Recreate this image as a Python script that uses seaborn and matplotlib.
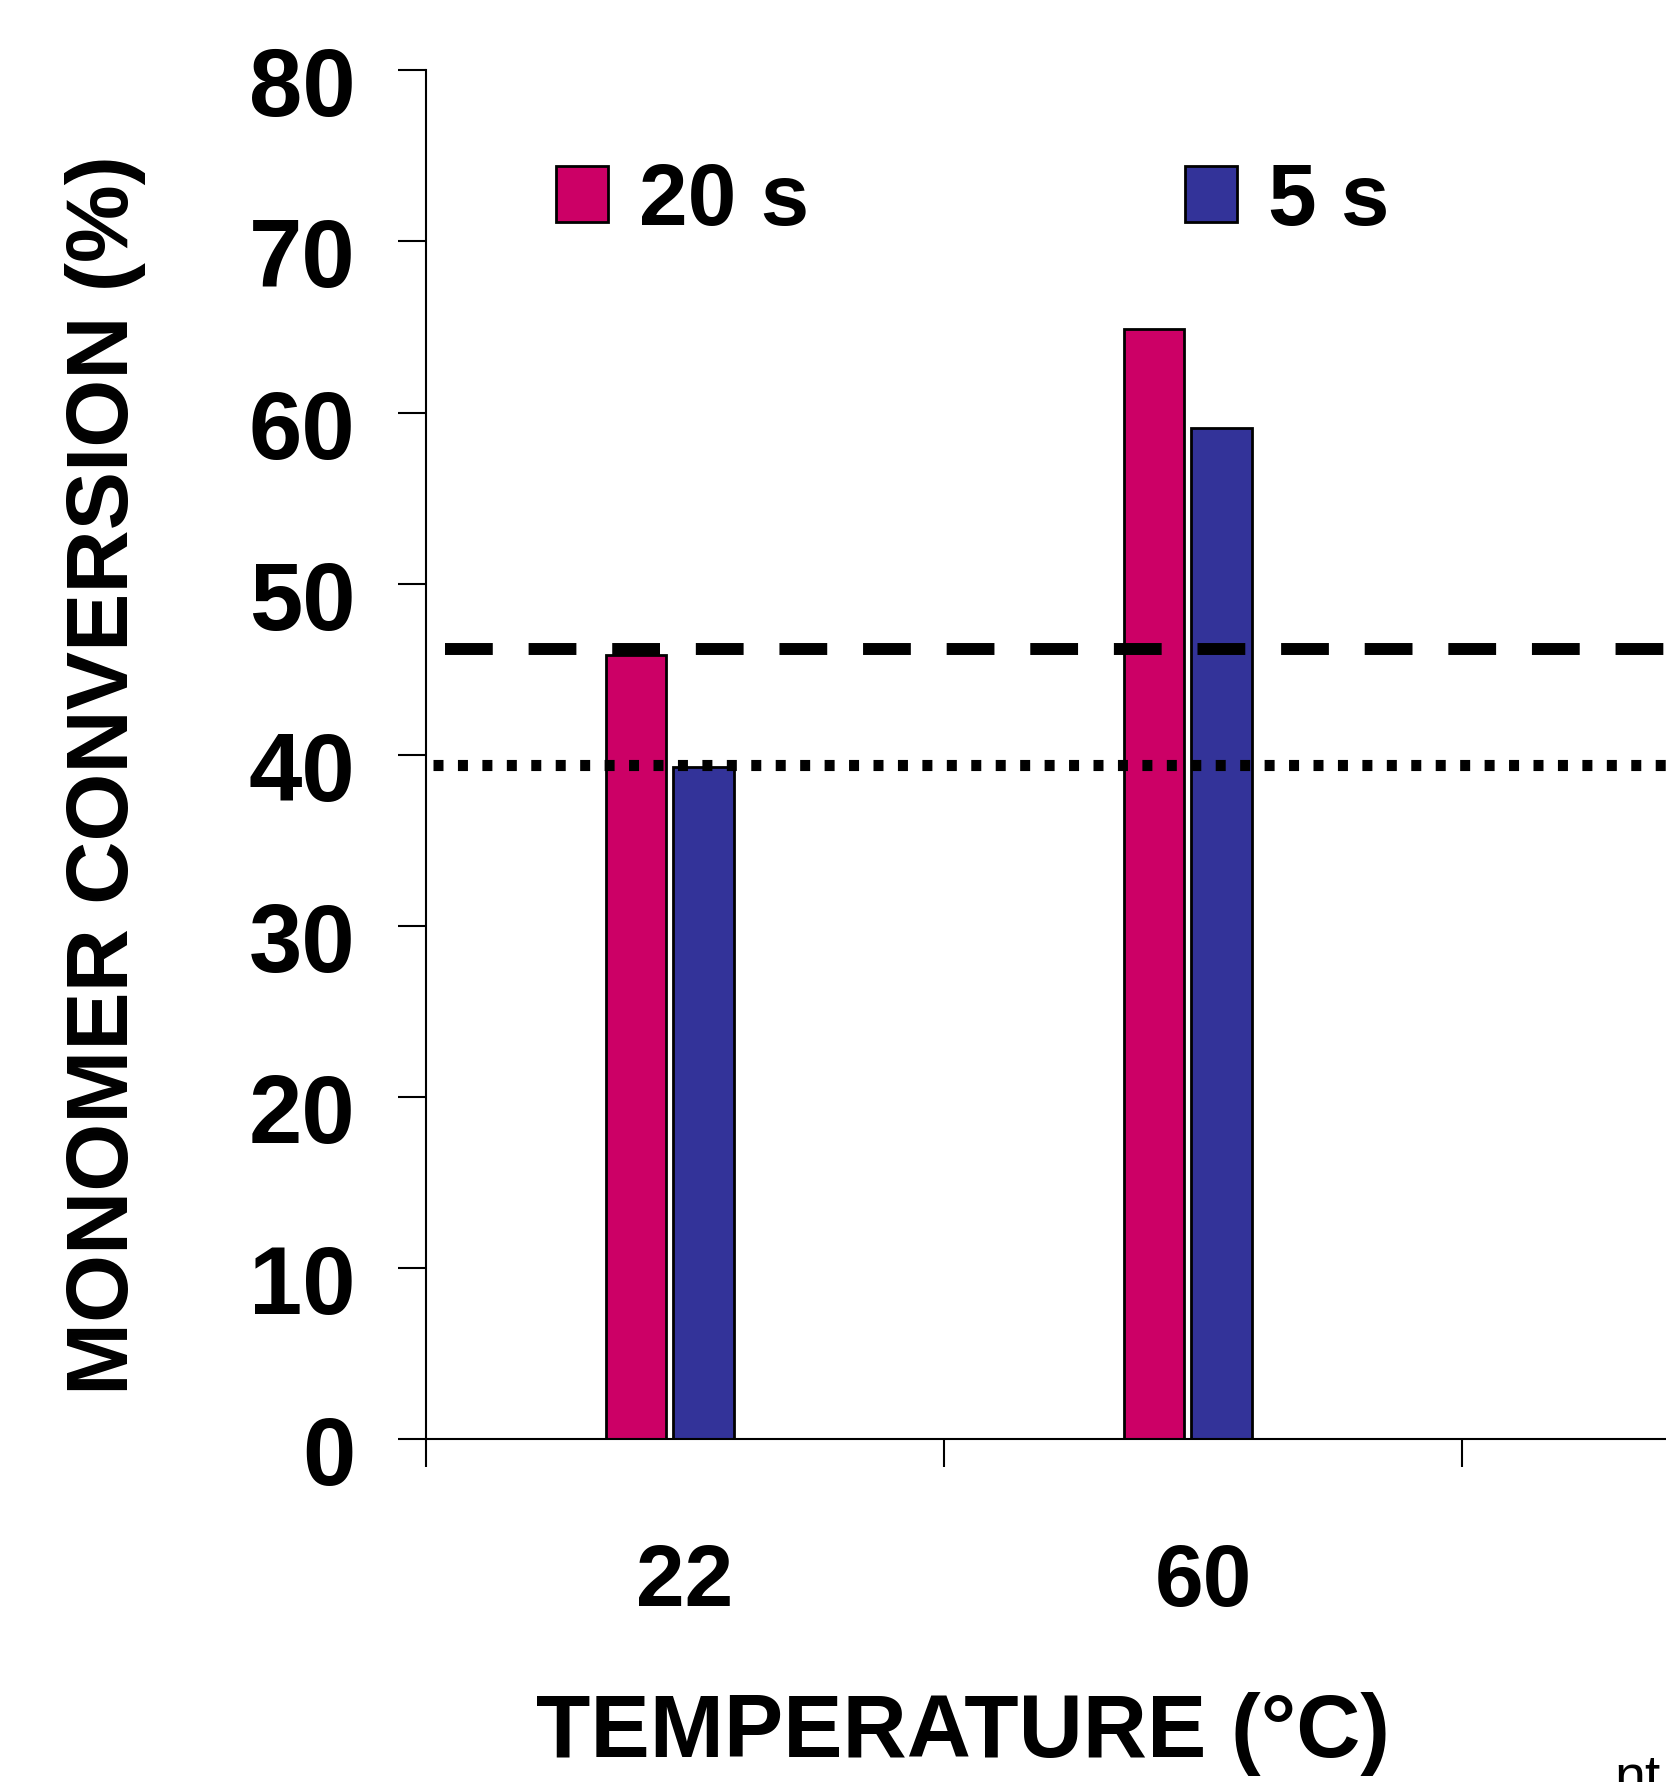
import matplotlib
matplotlib.use('Agg')
import matplotlib.pyplot as plt
import matplotlib.transforms as mtransforms
import pandas as pd
import seaborn as sns

# data
temperatures = ['22', '60']
times = ['20 s', '5 s']
conv_20s = [45.8, 64.9]
conv_5s = [39.3, 59.1]
dashed_level = 46.2
dotted_level = 39.4

df = pd.DataFrame({
    'temp': temperatures * 2,
    'time': [times[0]] * 2 + [times[1]] * 2,
    'conv': conv_20s + conv_5s,
})

sns.set_style('ticks')
plt.rcParams['font.family'] = ['Liberation Sans', 'DejaVu Sans']
plt.rcParams['font.weight'] = 'bold'
for k in ['text.color', 'axes.labelcolor', 'xtick.color', 'ytick.color']:
    plt.rcParams[k] = 'black'

fig = plt.figure(figsize=(16.66, 17.82), dpi=100)
ax = fig.add_axes([0.2557, 0.1925, 0.933, 0.768])

sns.barplot(data=df, x='temp', y='conv', hue='time', hue_order=times,
            palette=['#CC0066', '#333399'], width=0.26, gap=0.1,
            edgecolor='black', linewidth=2, saturation=1, ax=ax)
# bars sit a little left of the category centre in the original
for p in ax.patches:
    p.set_x(p.get_x() - 0.03)

ax.set_xlim(-0.5, 2.5)
ax.set_ylim(0, 80)

# reference lines
ax.plot([-0.464, 2.5], [dashed_level] * 2, color='black', lw=8.6,
        dashes=(4, 3), dash_capstyle='butt', zorder=5)
ax.plot([-0.486, 2.5], [dotted_level] * 2, color='black', lw=8,
        dashes=(0.9, 1.3), dash_capstyle='butt', zorder=5)

ax.set_yticks(range(0, 81, 10))
ax.tick_params(axis='y', labelsize=69, length=20, width=1.5, pad=31)
shift = mtransforms.ScaledTranslation(0, -0.11, fig.dpi_scale_trans)
for lab in ax.get_yticklabels():
    lab.set_transform(lab.get_transform() + shift)
ax.set_xticks([-0.5, 0.5, 1.5, 2.5])
ax.set_xticklabels([])
ax.set_xticks([0, 1], minor=True)
ax.set_xticklabels(temperatures, minor=True)
ax.tick_params(axis='x', which='major', length=20, width=1.5)
ax.tick_params(axis='x', which='minor', length=0, labelsize=63, pad=75)

for s in ['top', 'right']:
    ax.spines[s].set_visible(False)
for s in ['left', 'bottom']:
    ax.spines[s].set_linewidth(1.5)
    ax.spines[s].set_color('black')

ax.set_xlabel('TEMPERATURE (°C)', fontsize=64, fontweight='bold')
ax.xaxis.set_label_coords(0.3456, -0.185)
ax.set_ylabel('MONOMER CONVERSION (%)', fontsize=63, fontweight='bold')
ax.yaxis.set_label_coords(-0.18, 0.485)

handles, labels = ax.get_legend_handles_labels()
ax.legend(handles, labels, ncol=2, frameon=False, fontsize=63,
          loc='center left', bbox_to_anchor=(0.3337, 0.8865),
          bbox_transform=fig.transFigure, borderpad=0, borderaxespad=0,
          handlelength=0.6, handleheight=0.6, handletextpad=0.35,
          columnspacing=4.29)

fig.text(0.969, -0.0067, 'nt', fontsize=40, fontweight='normal', va='baseline')

fig.savefig('out.png', dpi=100)
